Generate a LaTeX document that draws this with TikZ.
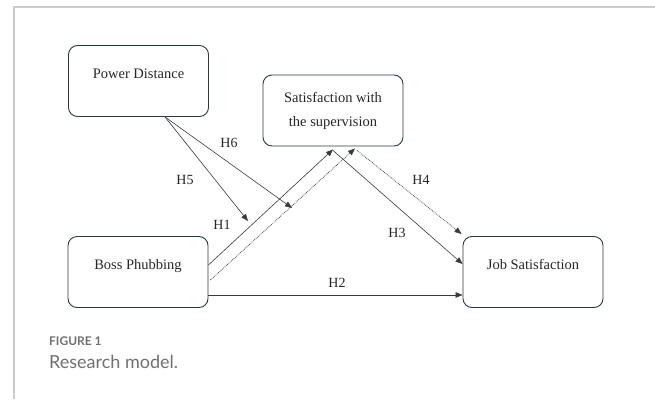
\documentclass[tikz,border=0pt]{standalone}
\usepackage{fontspec}
\setmainfont{Liberation Serif}
\newfontfamily\capfont{Lato}
\usetikzlibrary{arrows.meta}
\definecolor{boxline}{HTML}{2B3A42}
\definecolor{linegray}{HTML}{3A3A3A}
\definecolor{framegray}{HTML}{CCCCCC}
\definecolor{capgray}{HTML}{707070}

\begin{document}
\begin{tikzpicture}[x=1pt, y=-1pt,
  box/.style={draw=boxline, line width=0.9pt, rounded corners=9pt, minimum width=140pt, minimum height=71pt, inner sep=0pt, font=\fontsize{14.5}{16}\selectfont, text=black!85},
  hightext/.style={text height=9pt, text depth=14pt},
  link/.style={draw=linegray, line width=0.6pt, -{Triangle[length=7pt,width=5.5pt]}},
  dotlink/.style={link, line width=0.75pt, densely dotted},
  hyp/.style={font=\fontsize{14}{16}\selectfont, inner sep=0pt, text=black!85}]
\useasboundingbox (0,0) rectangle (655,399);
\draw[framegray, line width=1.2pt] (655,7) -- (14,7) -- (14,399);

% boxes
\node[box, hightext] (pd) at (138.5,81) {Power Distance};
\node[box, align=center, font=\fontsize{14.5}{24}\selectfont] (sat) at (333,110.5) {Satisfaction with\\the supervision};
\node[box, hightext] (bp) at (138,272) {Boss Phubbing};
\node[box, hightext] (js) at (533,272) {Job Satisfaction};

\coordinate (h5end) at (248,221);
\coordinate (h6end) at (292,208);

% paths
\draw[link] ([yshift=7pt]bp.east) -- ([yshift=-3pt]sat.south);
\draw[dotlink] ([xshift=2pt,yshift=-8pt]bp.east) -- ([xshift=22pt,yshift=-2pt]sat.south);
\draw[link] ([yshift=-23pt]bp.east) -- ([yshift=-23pt]js.west);
\draw[link] ([yshift=-4pt]sat.south) -- ([yshift=8pt]js.west);
\draw[dotlink] ([xshift=24pt,yshift=-4pt]sat.south) -- ([xshift=-1pt,yshift=38pt]js.west);
\draw[link] ([xshift=26.5pt]pd.south) -- (h5end);
\draw[link] ([xshift=26.5pt]pd.south) -- (h6end);

% labels
\node[hyp] (h1) at (222,225) {H1};
\node[hyp] (h2) at (337,283) {H2};
\node[hyp] (h3) at (397,233) {H3};
\node[hyp] (h4) at (421,180) {H4};
\node[hyp] (h5) at (185,180) {H5};
\node[hyp] (h6) at (229,143) {H6};

% caption
\node[anchor=west, inner sep=0pt, font=\capfont\bfseries\fontsize{12}{14}\selectfont, text=capgray] (fig) at (49,341) {FIGURE 1};
\node[anchor=west, inner sep=0pt, font=\capfont\fontsize{18}{22}\selectfont, text=capgray] (cap) at (49,362) {Research model.};
\end{tikzpicture}
\end{document}
